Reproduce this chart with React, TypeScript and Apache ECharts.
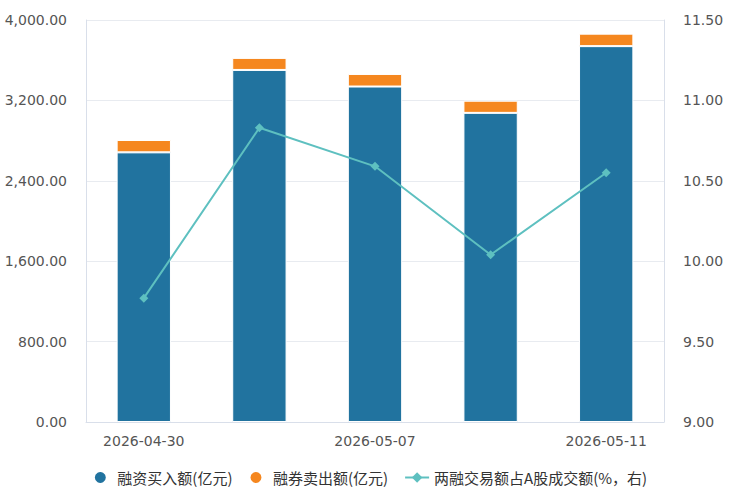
import React, { useEffect, useRef } from "react";
import * as echarts from "echarts";

const categories = ["2026-04-30", "2026-05-06", "2026-05-07", "2026-05-08", "2026-05-11"];
const financingBuy = [2683, 3503, 3338, 3076, 3740];
const securitiesSell = [123, 120, 125, 121, 124];
const marginShare = [9.77, 10.83, 10.59, 10.04, 10.55];

const leftTicks = { min: 0, max: 4000, interval: 800 };
const rightTicks = { min: 9, max: 11.5, interval: 0.5 };

const fmtThousands = (v: number) =>
  v.toLocaleString("en-US", { minimumFractionDigits: 2, maximumFractionDigits: 2 });

export default function App() {
  const ref = useRef<HTMLDivElement>(null);
  useEffect(() => {
    if (!ref.current) return;
    const chart = echarts.init(ref.current, undefined, { renderer: "svg" });
    const font = "'DejaVu Sans', 'Noto Sans CJK SC', sans-serif";
    const axisLineColor = "#d9dfea";
    chart.setOption({
      animation: false,
      textStyle: { fontFamily: font },
      grid: { left: 86, right: 76, top: 20, bottom: 78 },
      legend: {
        bottom: 10,
        left: "center",
        itemGap: 16,
        itemWidth: 24,
        itemHeight: 13,
        textStyle: { fontSize: 15, color: "#333", fontFamily: "'Noto Sans CJK SC', sans-serif" },
        data: [
          { name: "融资买入额(亿元)", icon: "circle" },
          { name: "融券卖出额(亿元)", icon: "circle" },
          { name: "两融交易额占A股成交额(%，右)" },
        ],
      },
      xAxis: {
        type: "category",
        data: categories,
        axisLine: { lineStyle: { color: axisLineColor } },
        axisTick: { alignWithLabel: true, interval: 0, lineStyle: { color: axisLineColor } },
        axisLabel: { interval: 1, color: "#555", fontSize: 14, margin: 12 },
      },
      yAxis: [
        {
          type: "value",
          ...leftTicks,
          axisLine: { show: true, lineStyle: { color: axisLineColor } },
          axisTick: { show: false },
          splitLine: { lineStyle: { color: "#e8ebf0" } },
          axisLabel: { color: "#555", fontSize: 14, margin: 19, formatter: (v: number) => fmtThousands(v) },
        },
        {
          type: "value",
          ...rightTicks,
          position: "right",
          axisLine: { show: true, lineStyle: { color: axisLineColor } },
          axisTick: { show: false },
          splitLine: { show: false },
          axisLabel: { color: "#555", fontSize: 14, margin: 19, formatter: (v: number) => v.toFixed(2) },
        },
      ],
      series: [
        {
          name: "融资买入额(亿元)",
          type: "bar",
          stack: "total",
          barWidth: "47%",
          data: financingBuy,
          itemStyle: { color: "#21739f", borderColor: "#fff", borderWidth: 1 },
        },
        {
          name: "融券卖出额(亿元)",
          type: "bar",
          stack: "total",
          barWidth: "47%",
          data: securitiesSell,
          itemStyle: { color: "#f5871f", borderColor: "#fff", borderWidth: 1 },
        },
        {
          name: "两融交易额占A股成交额(%，右)",
          type: "line",
          yAxisIndex: 1,
          data: marginShare,
          symbol: "diamond",
          symbolSize: 9,
          lineStyle: { color: "#5ec0c0", width: 2 },
          itemStyle: { color: "#5ec0c0" },
        },
      ],
    });
    return () => chart.dispose();
  }, []);
  return (
    <div
      ref={ref}
      style={{ position: "fixed", left: 0, top: 0, width: 740, height: 500, background: "#fff" }}
    />
  );
}
